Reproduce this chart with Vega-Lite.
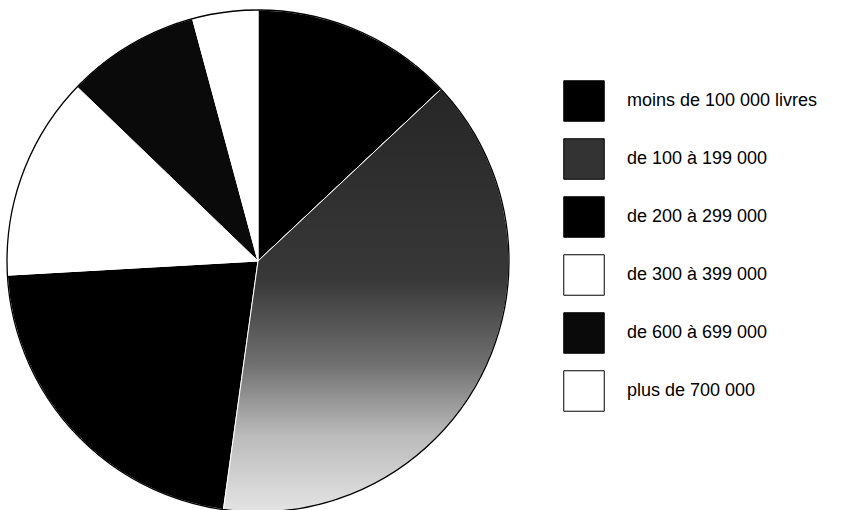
{
  "$schema": "https://vega.github.io/schema/vega-lite/v6.json",
  "width": 516,
  "height": 500,
  "padding": {"left": 0, "top": 7, "right": 0, "bottom": 0},
  "background": "white",
  "config": {"view": {"stroke": null}, "font": "Liberation Sans"},
  "data": {
    "values": [
      {"k": 1, "label": "moins de 100 000 livres", "share": 13.0},
      {"k": 2, "label": "de 100 à 199 000", "share": 39.2},
      {"k": 3, "label": "de 200 à 299 000", "share": 21.9},
      {"k": 4, "label": "de 300 à 399 000", "share": 13.1},
      {"k": 5, "label": "de 600 à 699 000", "share": 8.6},
      {"k": 6, "label": "plus de 700 000", "share": 4.2}
    ]
  },
  "layer": [
    {
      "mark": {"type": "arc", "outerRadius": 251, "stroke": "white", "strokeWidth": 1},
      "encoding": {
        "theta": {"field": "share", "type": "quantitative", "stack": true},
        "order": {"field": "k", "type": "quantitative"},
        "color": {
          "field": "label",
          "type": "nominal",
          "sort": null,
          "scale": {
            "domain": ["moins de 100 000 livres", "de 100 à 199 000", "de 200 à 299 000", "de 300 à 399 000", "de 600 à 699 000", "plus de 700 000"],
            "range": ["#000000", "#333333", "#000000", "#ffffff", "#0a0a0a", "#ffffff"]
          },
          "legend": {
            "title": null,
            "orient": "none",
            "legendX": 563,
            "legendY": 69,
            "padding": 0,
            "symbolType": "square",
            "symbolSize": 1640,
            "symbolStrokeColor": "black",
            "symbolStrokeWidth": 1,
            "symbolOpacity": 1,
            "rowPadding": 12,
            "labelOffset": 22,
            "labelFontSize": 18,
            "labelFont": "Liberation Sans",
            "labelColor": "black",
            "labelLimit": 400
          }
        }
      }
    },
    {
      "mark": {
        "type": "arc",
        "outerRadius": 251,
        "stroke": "white",
        "strokeWidth": 1,
        "fill": {
          "gradient": "linear",
          "x1": 0, "y1": 0, "x2": 0, "y2": 1,
          "stops": [
            {"offset": 0, "color": "#262626"},
            {"offset": 0.45, "color": "#383838"},
            {"offset": 0.65, "color": "#707070"},
            {"offset": 0.82, "color": "#bbbbbb"},
            {"offset": 1, "color": "#e4e4e4"}
          ]
        }
      },
      "encoding": {
        "theta": {"field": "share", "type": "quantitative", "stack": true},
        "order": {"field": "k", "type": "quantitative"},
        "detail": {"field": "label", "type": "nominal"},
        "opacity": {"condition": {"test": "datum.k === 2", "value": 1}, "value": 0}
      }
    },
    {
      "data": {"values": [{"ring": 1}]},
      "mark": {"type": "arc", "outerRadius": 251, "theta": 0, "theta2": 6.2832, "fill": null, "filled": false, "stroke": "black", "strokeWidth": 1.3},
      "encoding": {}
    }
  ]
}
